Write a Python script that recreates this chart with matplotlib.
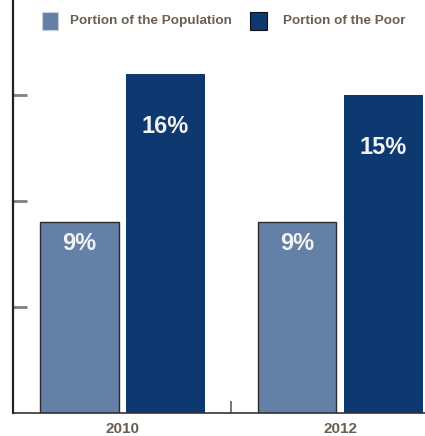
import matplotlib
matplotlib.use("Agg")
import matplotlib.pyplot as plt
from matplotlib.patches import Rectangle

plt.rcParams['font.family'] = ['Liberation Sans Narrow', 'Liberation Sans', 'DejaVu Sans']

# share (%) by year
years = ['2010', '2012']
population_share = [9, 9]
poor_share = [16, 15]
series_names = ['Portion of the Population', 'Portion of the Poor']

pop_color = '#6580a6'
poor_color = '#0d3870'
text_color = '#6b5e52'

W, H = 425, 436
fig = plt.figure(figsize=(W / 100, H / 100), dpi=100)
ax = fig.add_axes([13 / W, 23 / H, 412 / W, 413 / H])

x = [0, 1]
w = 0.362
off = 0.198
ax.bar([i - off for i in x], population_share, width=w, color=pop_color,
       edgecolor='#2a2a2a', linewidth=1.0)
ax.bar([i + off for i in x], poor_share, width=w, color=poor_color, linewidth=0)

# value labels inside the bars
for i, v in zip(x, population_share):
    ax.text(i - off, v - 1.0, f'{v}%', ha='center', va='center', color='#f2f2f2',
            fontsize=17, fontweight='bold')
for i, v in zip(x, poor_share):
    ax.text(i + off, v - 2.5, f'{v}%', ha='center', va='center', color='#f2f2f2',
            fontsize=17, fontweight='bold')

ax.set_xlim(-0.501, 1.389)
ax.set_ylim(0, 413 / 21.2)

ax.set_yticks([5, 10, 15])
ax.set_yticklabels([])
ax.tick_params(axis='y', direction='in', length=10, width=2, color='#808080')

ax.set_xticks(x)
ax.set_xticklabels(years, fontsize=11, fontweight='bold', color=text_color)
ax.tick_params(axis='x', length=0, pad=6.5)
ax.set_xticks([0.5], minor=True)
ax.tick_params(axis='x', which='minor', direction='in', length=9, width=1.2, color='#606060')

for side in ['top', 'right']:
    ax.spines[side].set_visible(False)
ax.spines['left'].set_color('#222222')
ax.spines['left'].set_linewidth(1.6)
ax.spines['bottom'].set_color('#333333')
ax.spines['bottom'].set_linewidth(1.2)

# legend keys and labels along the top, placed in pixels from the top-left
legend_items = [(42, 16, pop_color, '#c8d0dc', 70),
                (250, 17, poor_color, '#111111', 283)]
for (kx, kw, fc, ec, tx), name in zip(legend_items, series_names):
    fig.patches.append(Rectangle((kx / W, 1 - 30 / H), kw / W, 18 / H,
                                 transform=fig.transFigure, facecolor=fc,
                                 edgecolor=ec, linewidth=0.8))
    fig.text(tx / W, 1 - 21 / H, name, ha='left', va='center', color=text_color,
             fontsize=9.7, fontweight='bold')

fig.savefig('out.png', dpi=100)
